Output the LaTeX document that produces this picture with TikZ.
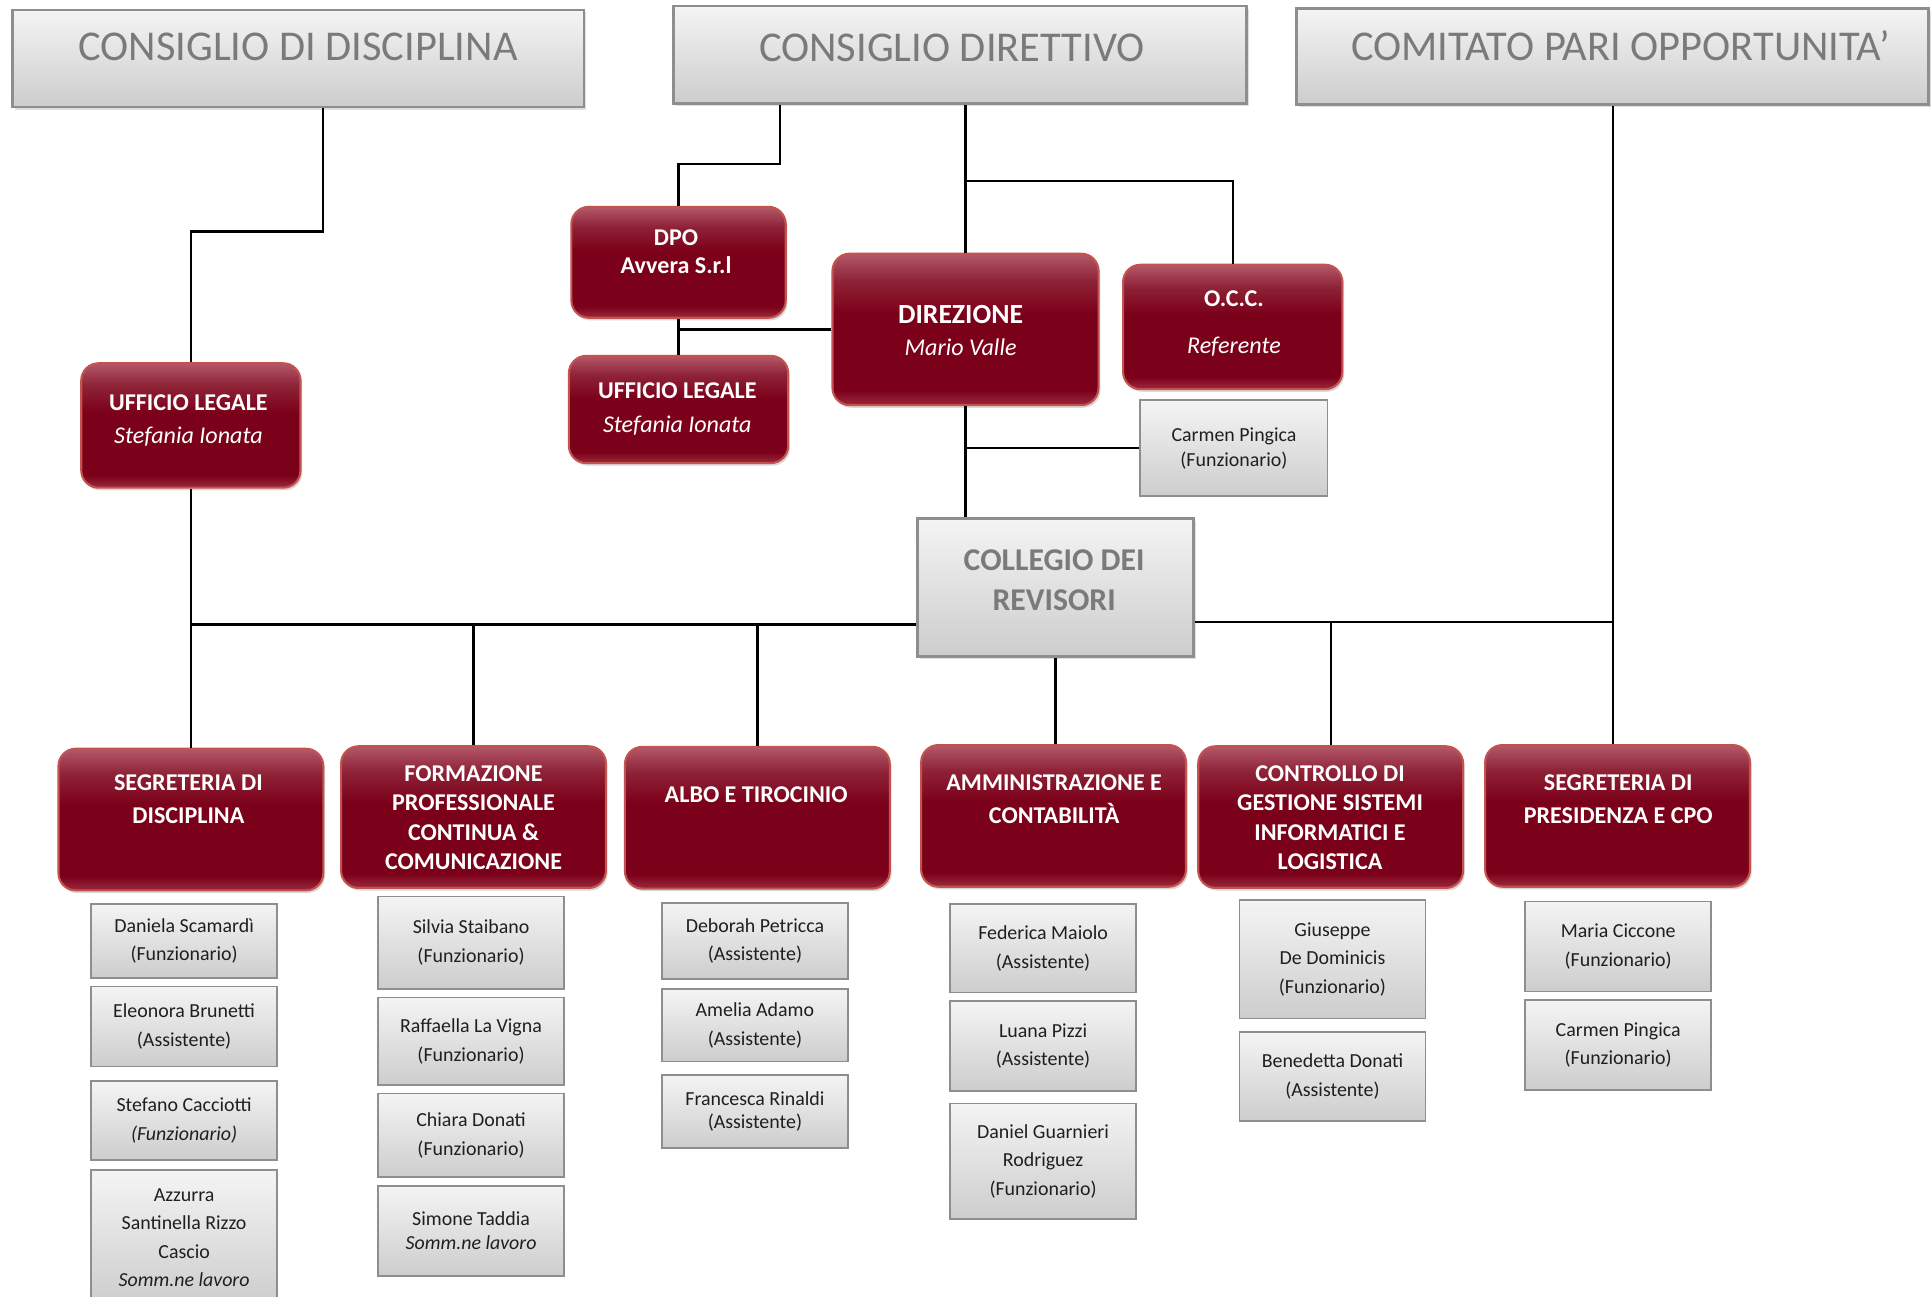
\documentclass[tikz,border=0pt]{standalone}
\usepackage{fontspec}
\setmainfont{Carlito}
\usetikzlibrary{shadows}

\definecolor{bordo}{HTML}{7B0019}
\definecolor{bordolow}{HTML}{9A2B3E}
\definecolor{bordomid}{HTML}{8E2236}
\definecolor{bordohigh}{HTML}{B3586A}
\definecolor{bordorim}{HTML}{C4534F}
\definecolor{grigiotop}{HTML}{F4F4F4}
\definecolor{grigiobot}{HTML}{CDCDCD}
\definecolor{grigioline}{HTML}{8E8E8E}
\definecolor{grigiotxt}{HTML}{7A7A7A}

\pgfdeclareverticalshading{bordoshade}{100bp}{color(0bp)=(bordolow); color(25bp)=(bordolow); color(30bp)=(bordo); color(55bp)=(bordo); color(66bp)=(bordomid); color(75bp)=(bordohigh); color(100bp)=(bordohigh)}

\tikzset{
  organo/.style={draw=grigioline, line width=1.5pt, top color=grigiotop, bottom color=grigiobot,
    drop shadow={opacity=0.25, shadow xshift=1.5pt, shadow yshift=-1.5pt}},
  titolo/.style={text=grigiotxt, font=\fontsize{24.5}{29}\selectfont},
  ufficio/.style={draw=bordorim, line width=1.2pt, rounded corners=0.35cm, shade, shading=bordoshade,
    drop shadow={opacity=0.3, shadow xshift=1pt, shadow yshift=-1.5pt}},
  area/.style={ufficio, minimum width=5.375cm, minimum height=2.875cm},
  nomeuff/.style={text=white, align=center, font=\bfseries\fontsize{13.9}{19.5}\selectfont},
  nomefitto/.style={nomeuff, font=\bfseries\fontsize{13.9}{17}\selectfont},
  persona/.style={draw=grigioline, line width=1pt, top color=grigiotop, bottom color=grigiobot,
    minimum width=3.775cm, align=center, text=black!88, font=\fontsize{11.5}{16.5}\selectfont},
  conn/.style={line width=1.3pt, black},
}

\begin{document}
\begin{tikzpicture}[x=0.025cm, y=-0.025cm]
  \useasboundingbox (0,0) rectangle (1568,1053);
  \clip (0,0) rectangle (1568,1053);

  % organi in alto
  \node[organo, minimum width=11.6cm, minimum height=1.975cm] (cdisc) at (242,47.5) {};
  \node[titolo] (cdisc-t) at (242,38) {CONSIGLIO DI DISCIPLINA};
  \node[organo, minimum width=11.625cm, minimum height=1.975cm] (cdir) at (779.5,44.5) {};
  \node[titolo] (cdir-t) at (773,39) {CONSIGLIO DIRETTIVO};
  \node[organo, minimum width=12.825cm, minimum height=1.95cm] (cpo) at (1309.5,46) {};
  \node[titolo] (cpo-t) at (1316,37) {COMITATO PARI OPPORTUNITA’};

  % uffici centrali
  \node[ufficio, minimum width=4.35cm, minimum height=2.25cm] (dpo) at (551,213) {};
  \node[nomeuff] (dpo-t) at (549,204.5) {DPO\\[-3pt]Avvera S.r.l};
  \node[ufficio, minimum width=4.45cm, minimum height=2.175cm] (ulm) at (551,332.5) {};
  \node[nomeuff] (ulm-t) at (550,332) {UFFICIO LEGALE\\{\mdseries\itshape Stefania Ionata}};
  \node[ufficio, minimum width=5.4cm, minimum height=3.075cm] (dirz) at (784,267.5) {};
  \node[nomeuff] (dirz-t) at (780,268) {{\fontsize{16}{19.5}\selectfont DIREZIONE}\\[-1pt]{\mdseries\itshape Mario Valle}};
  \node[ufficio, minimum width=4.45cm, minimum height=2.525cm] (occ) at (1001,265.5) {};
  \node[nomeuff] (occ-t) at (1002,263) {O.C.C.\\[7.5pt]{\mdseries\itshape Referente}};
  \node[ufficio, minimum width=4.45cm, minimum height=2.525cm] (ull) at (155,345.5) {};
  \node[nomeuff] (ull-t) at (153,341.5) {UFFICIO LEGALE\\{\mdseries\itshape Stefania Ionata}};
  \node[persona, minimum width=3.8cm, minimum height=1.95cm] (carm) at (1002,364) {Carmen Pingica\\[-2pt](Funzionario)};
  \node[organo, minimum width=5.6cm, minimum height=2.8cm] (coll) at (857,477) {};
  \node[align=center, text=grigiotxt, font=\bfseries\fontsize{18.3}{22.8}\selectfont] (coll-t) at (856,471) {COLLEGIO DEI\\REVISORI};

  % aree
  \node[area] (segdis) at (155,665.5) {};
  \node[nomeuff] (segdis-t) at (153,649) {SEGRETERIA DI\\DISCIPLINA};
  \node[area] (form) at (384.5,663.5) {};
  \node[nomefitto] (form-t) at (384.5,664) {FORMAZIONE\\PROFESSIONALE\\CONTINUA \&\\COMUNICAZIONE};
  \node[area] (albo) at (615,664) {};
  \node[nomeuff] (albo-t) at (614,645) {ALBO E TIROCINIO};
  \node[area] (ammin) at (855.5,662.5) {};
  \node[nomeuff] (ammin-t) at (856,649) {AMMINISTRAZIONE E\\CONTABILITÀ};
  \node[area] (contr) at (1080.5,663.5) {};
  \node[nomefitto] (contr-t) at (1080,664) {CONTROLLO DI\\GESTIONE SISTEMI\\INFORMATICI E\\LOGISTICA};
  \node[area] (segpres) at (1313.5,662.5) {};
  \node[nomeuff] (segpres-t) at (1314,649) {SEGRETERIA DI\\PRESIDENZA E CPO};

  % personale
  \node[persona, minimum height=1.5cm] (dan) at (149.5,764) {Daniela Scamardì\\(Funzionario)};
  \node[persona, minimum height=1.625cm] (ele) at (149.5,833.5) {Eleonora Brunetti\\(Assistente)};
  \node[persona, minimum height=1.6cm] (ste) at (149.5,910) {Stefano Cacciotti\\\textit{(Funzionario)}};
  \node[persona, minimum height=2.75cm] (azz) at (149.5,1005) {Azzurra\\Santinella Rizzo\\Cascio\\\textit{Somm.ne lavoro}};

  \node[persona, minimum height=1.875cm] (sil) at (382.5,765.5) {Silvia Staibano\\(Funzionario)};
  \node[persona, minimum height=1.775cm] (raf) at (382.5,845.5) {Raffaella La Vigna\\(Funzionario)};
  \node[persona, minimum height=1.7cm] (chi) at (382.5,922) {Chiara Donati\\(Funzionario)};
  \node[persona, minimum height=1.825cm] (sim) at (382.5,999.5) {Simone Taddia\\[-2.5pt]\textit{Somm.ne lavoro}};

  \node[persona, minimum height=1.55cm] (deb) at (613,764) {Deborah Petricca\\(Assistente)};
  \node[persona, minimum height=1.475cm] (ame) at (613,832.5) {Amelia Adamo\\(Assistente)};
  \node[persona, minimum height=1.475cm] (fra) at (613,902.5) {Francesca Rinaldi\\[-3pt](Assistente)};

  \node[persona, minimum height=1.8cm] (fed) at (847,770) {Federica Maiolo\\(Assistente)};
  \node[persona, minimum height=1.825cm] (lua) at (847,849.5) {Luana Pizzi\\(Assistente)};
  \node[persona, minimum height=2.35cm] (dgr) at (847,943) {Daniel Guarnieri\\Rodriguez\\(Funzionario)};

  \node[persona, minimum height=2.4cm] (giu) at (1082,779) {Giuseppe\\De Dominicis\\(Funzionario)};
  \node[persona, minimum height=1.8cm] (ben) at (1082,874) {Benedetta Donati\\(Assistente)};

  \node[persona, minimum height=1.825cm] (mar) at (1314,768.5) {Maria Ciccone\\(Funzionario)};
  \node[persona, minimum height=1.825cm] (cpi) at (1314,848.5) {Carmen Pingica\\(Funzionario)};

  % collegamenti
  \coordinate (busl) at (155,507);
  \coordinate (busr) at (1309.5,505);
  \coordinate (forkocc) at (784,147);
  \draw[conn] ([xshift=0.5cm]cdisc.south) -- ++(0,100) -| (ull.north);
  \draw[conn] (ull.south) -- (segdis.north);
  \draw[conn] ([xshift=-3.65cm]cdir.south) -- ++(0,48) -| (dpo.north);
  \draw[conn] (cdir.south -| dirz.north) -- (dirz.north);
  \draw[conn] (forkocc) -| (occ.north);
  \draw[conn] (dpo.south) -- (ulm.north);
  \draw[conn] (dirz.west) -- (dirz.west -| dpo.south);
  \draw[conn] (dirz.south) -- (dirz.south |- coll.north);
  \draw[conn] (carm.west) -- (carm.west -| dirz.south);
  \draw[conn] (busl) -- (busl -| coll.west);
  \draw[conn] (coll.east |- busr) -- (busr);
  \draw[conn] (form.north |- busl) -- (form.north);
  \draw[conn] (albo.north |- busl) -- (albo.north);
  \draw[conn] (coll.south) -- (coll.south |- ammin.north);
  \draw[conn] (contr.north |- busr) -- (contr.north);
  \draw[conn] (cpo.south) -- (cpo.south |- segpres.north);
\end{tikzpicture}
\end{document}
